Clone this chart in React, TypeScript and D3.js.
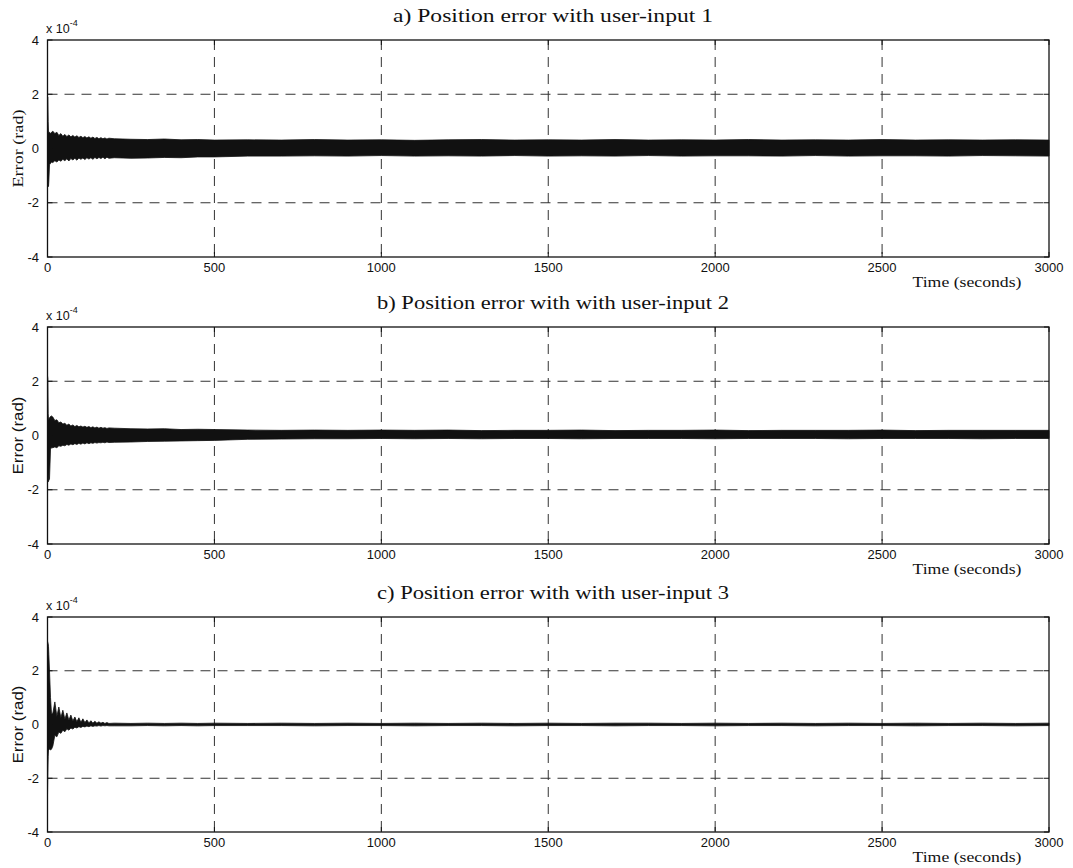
import React from 'react';
import * as d3 from 'd3';

// time samples (seconds) shared by the three envelopes
const TIMES = [0, 1, 2, 3, 4, 6, 9, 12,
  16, 22, 28, 34, 40, 46, 52, 58, 64, 70, 76, 82, 88, 94, 100, 106, 112, 118, 124, 130, 136, 142, 148, 154, 160, 166, 172, 178, 184,
  200, 250, 300, 350, 400, 450, 500,
  600, 700, 800, 900, 1000, 1100, 1200, 1300, 1400, 1500, 1600, 1700, 1800, 1900, 2000, 2100, 2200, 2300, 2400, 2500, 2600, 2700, 2800, 2900, 3000];

// envelopes of the error signal (x 1e-4 rad)
const UPPER_A = [1.9, 1.9, 1.0, 0.6, 0.6, 0.6, 0.55, 0.6,
  0.64, 0.55, 0.60, 0.48, 0.55, 0.45, 0.52, 0.44, 0.50, 0.43, 0.48, 0.42, 0.47, 0.41, 0.45, 0.40, 0.44, 0.39, 0.43, 0.38, 0.42, 0.37, 0.41, 0.36, 0.40, 0.36, 0.39, 0.35, 0.38,
  0.36, 0.34, 0.33, 0.35, 0.32, 0.33, 0.31,
  0.32, 0.31, 0.33, 0.31, 0.32, 0.30, 0.32, 0.33, 0.31, 0.32, 0.31, 0.33, 0.31, 0.32, 0.31, 0.33, 0.31, 0.32, 0.31, 0.33, 0.31, 0.32, 0.31, 0.32, 0.31];
const LOWER_A = [-0.2, -0.8, -1.4, -1.4, -1.2, -0.6, -0.55, -0.5,
  -0.52, -0.45, -0.50, -0.42, -0.47, -0.40, -0.45, -0.38, -0.46, -0.37, -0.42, -0.36, -0.43, -0.35, -0.40, -0.35, -0.41, -0.34, -0.39, -0.34, -0.40, -0.33, -0.38, -0.33, -0.37, -0.32, -0.38, -0.32, -0.36,
  -0.34, -0.36, -0.35, -0.33, -0.34, -0.31, -0.31,
  -0.28, -0.28, -0.27, -0.28, -0.26, -0.28, -0.27, -0.28, -0.26, -0.28, -0.27, -0.28, -0.26, -0.28, -0.27, -0.27, -0.28, -0.26, -0.28, -0.27, -0.27, -0.28, -0.26, -0.27, -0.28];

const UPPER_B = [2.2, 2.1, 0.8, 0.6, 0.6, 0.65, 0.7, 0.72,
  0.68, 0.55, 0.58, 0.47, 0.50, 0.42, 0.45, 0.38, 0.42, 0.35, 0.39, 0.33, 0.37, 0.32, 0.35, 0.31, 0.34, 0.30, 0.33, 0.29, 0.32, 0.28, 0.31, 0.27, 0.30, 0.27, 0.29, 0.26, 0.28,
  0.27, 0.25, 0.24, 0.25, 0.22, 0.23, 0.22,
  0.20, 0.19, 0.20, 0.19, 0.20, 0.19, 0.20, 0.18, 0.19, 0.19, 0.20, 0.18, 0.19, 0.19, 0.20, 0.18, 0.19, 0.19, 0.19, 0.20, 0.18, 0.19, 0.19, 0.19, 0.19];
const LOWER_B = [-0.3, -1.0, -1.7, -1.7, -1.65, -1.6, -0.5, -0.45,
  -0.45, -0.42, -0.45, -0.38, -0.40, -0.36, -0.38, -0.33, -0.36, -0.31, -0.34, -0.30, -0.33, -0.29, -0.32, -0.28, -0.31, -0.27, -0.30, -0.27, -0.29, -0.26, -0.28, -0.26, -0.27, -0.25, -0.27, -0.24, -0.26,
  -0.25, -0.24, -0.22, -0.21, -0.20, -0.19, -0.18,
  -0.14, -0.13, -0.12, -0.12, -0.11, -0.12, -0.11, -0.12, -0.11, -0.11, -0.12, -0.11, -0.11, -0.11, -0.12, -0.11, -0.11, -0.11, -0.12, -0.11, -0.11, -0.11, -0.12, -0.11, -0.11];

const UPPER_C = [3.1, 3.05, 3.0, 2.9, 2.6, 2.0, 1.0, 0.4,
  0.42, 0.84, 0.30, 0.65, 0.25, 0.53, 0.20, 0.43, 0.16, 0.35, 0.13, 0.28, 0.10, 0.25, 0.08, 0.21, 0.07, 0.17, 0.06, 0.14, 0.05, 0.12, 0.05, 0.10, 0.05, 0.08, 0.04, 0.07, 0.04,
  0.05, 0.04, 0.05, 0.04, 0.05, 0.04, 0.05,
  0.04, 0.05, 0.04, 0.05, 0.04, 0.05, 0.04, 0.05, 0.04, 0.05, 0.04, 0.05, 0.05, 0.04, 0.05, 0.04, 0.05, 0.04, 0.05, 0.04, 0.05, 0.04, 0.05, 0.04, 0.05];
const LOWER_C = [-2.6, -1.8, -1.2, -0.95, -0.95, -0.9, -0.95, -0.92,
  -0.80, -0.40, -0.46, -0.28, -0.33, -0.21, -0.27, -0.16, -0.21, -0.13, -0.17, -0.10, -0.13, -0.08, -0.11, -0.07, -0.09, -0.06, -0.08, -0.05, -0.07, -0.05, -0.06, -0.04, -0.06, -0.04, -0.05, -0.04, -0.05,
  -0.05, -0.05, -0.04, -0.05, -0.04, -0.05, -0.04,
  -0.04, -0.04, -0.05, -0.04, -0.04, -0.05, -0.04, -0.04, -0.05, -0.04, -0.04, -0.05, -0.04, -0.04, -0.05, -0.04, -0.04, -0.05, -0.04, -0.04, -0.05, -0.04, -0.04, -0.05, -0.04];

const X_TICKS = [0, 500, 1000, 1500, 2000, 2500, 3000];
const Y_TICKS = [-4, -2, 0, 2, 4];
const TITLES = [
  'a) Position error with user-input 1',
  'b) Position error with with user-input 2',
  'c) Position error with with user-input 3',
];
const X_LABEL = 'Time (seconds)';
const Y_LABEL = 'Error (rad)';

const W = 1073;
const H = 868;
const LEFT = 47.5;
const RIGHT = 1049;
const PANEL_TOPS = [40, 327, 617];
const PANEL_BOTTOMS = [257, 544, 832];
const TITLE_WIDTHS = [320, 352, 352];
const SANS = '"Liberation Sans", Arial, sans-serif';
const SERIF = '"Liberation Serif", "Times New Roman", serif';
const YLABEL_FONTS = [SERIF, SANS, SANS];

function Panel({ idx, upper, lower }: { idx: number; upper: number[]; lower: number[] }) {
  const top = PANEL_TOPS[idx];
  const bottom = PANEL_BOTTOMS[idx];
  const x = d3.scaleLinear().domain([0, 3000]).range([LEFT, RIGHT]);
  const y = d3.scaleLinear().domain([-4, 4]).range([bottom, top]);
  const data = TIMES.map((t, i) => ({ t, hi: upper[i], lo: lower[i] }));
  const area = d3.area<{ t: number; hi: number; lo: number }>()
    .x(d => x(d.t))
    .y0(d => y(d.lo))
    .y1(d => y(d.hi));
  const midY = (top + bottom) / 2;
  return (
    <g>
      {X_TICKS.slice(1, -1).map(v => (
        <line key={'gx' + v} x1={x(v)} x2={x(v)} y1={top} y2={bottom} stroke="#333" strokeWidth={1} strokeDasharray="10,7" />
      ))}
      {Y_TICKS.slice(1, -1).map(v => (
        <line key={'gy' + v} x1={LEFT} x2={RIGHT} y1={y(v)} y2={y(v)} stroke="#333" strokeWidth={1} strokeDasharray="10,7" />
      ))}
      <path d={area(data) || ''} fill="#111" stroke="#111" strokeWidth={0.8} strokeLinejoin="round" />
      <rect x={LEFT} y={top} width={RIGHT - LEFT} height={bottom - top} fill="none" stroke="#111" strokeWidth={1.3} />
      {X_TICKS.map(v => (
        <g key={'tx' + v}>
          <line x1={x(v)} x2={x(v)} y1={bottom} y2={bottom - 5} stroke="#111" />
          <line x1={x(v)} x2={x(v)} y1={top} y2={top + 5} stroke="#111" />
          <text x={x(v)} y={bottom + 15} textAnchor="middle" fontFamily={SANS} fontSize={13} fill="#111">{v}</text>
        </g>
      ))}
      {Y_TICKS.map(v => (
        <g key={'ty' + v}>
          <line x1={LEFT} x2={LEFT + 5} y1={y(v)} y2={y(v)} stroke="#111" />
          <line x1={RIGHT} x2={RIGHT - 5} y1={y(v)} y2={y(v)} stroke="#111" />
          <text x={39} y={y(v) + 4.5} textAnchor="end" fontFamily={SANS} fontSize={13} fill="#111">{v}</text>
        </g>
      ))}
      <text x={46} y={top - 7} fontFamily={SANS} fontSize={12.5} fill="#111">
        x 10
        <tspan dy={-7} fontSize={9}>-4</tspan>
      </text>
      <text x={553} y={top - 18} textAnchor="middle" fontFamily={SERIF} fontSize={18} fill="#111"
        textLength={TITLE_WIDTHS[idx]} lengthAdjust="spacingAndGlyphs">{TITLES[idx]}</text>
      <text x={967} y={bottom + 30} textAnchor="middle" fontFamily={SERIF} fontSize={15} fill="#111"
        textLength={109} lengthAdjust="spacingAndGlyphs">{X_LABEL}</text>
      <text transform={`translate(23,${midY}) rotate(-90)`} textAnchor="middle" fontFamily={YLABEL_FONTS[idx]}
        fontSize={15} fill="#111" textLength={78} lengthAdjust="spacingAndGlyphs">{Y_LABEL}</text>
    </g>
  );
}

export default function App() {
  return (
    <svg width={W} height={H} viewBox={`0 0 ${W} ${H}`} style={{ position: 'absolute', left: 0, top: 0, background: '#fff' }}>
      <rect x={0} y={0} width={W} height={H} fill="#fff" />
      <Panel idx={0} upper={UPPER_A} lower={LOWER_A} />
      <Panel idx={1} upper={UPPER_B} lower={LOWER_B} />
      <Panel idx={2} upper={UPPER_C} lower={LOWER_C} />
    </svg>
  );
}
